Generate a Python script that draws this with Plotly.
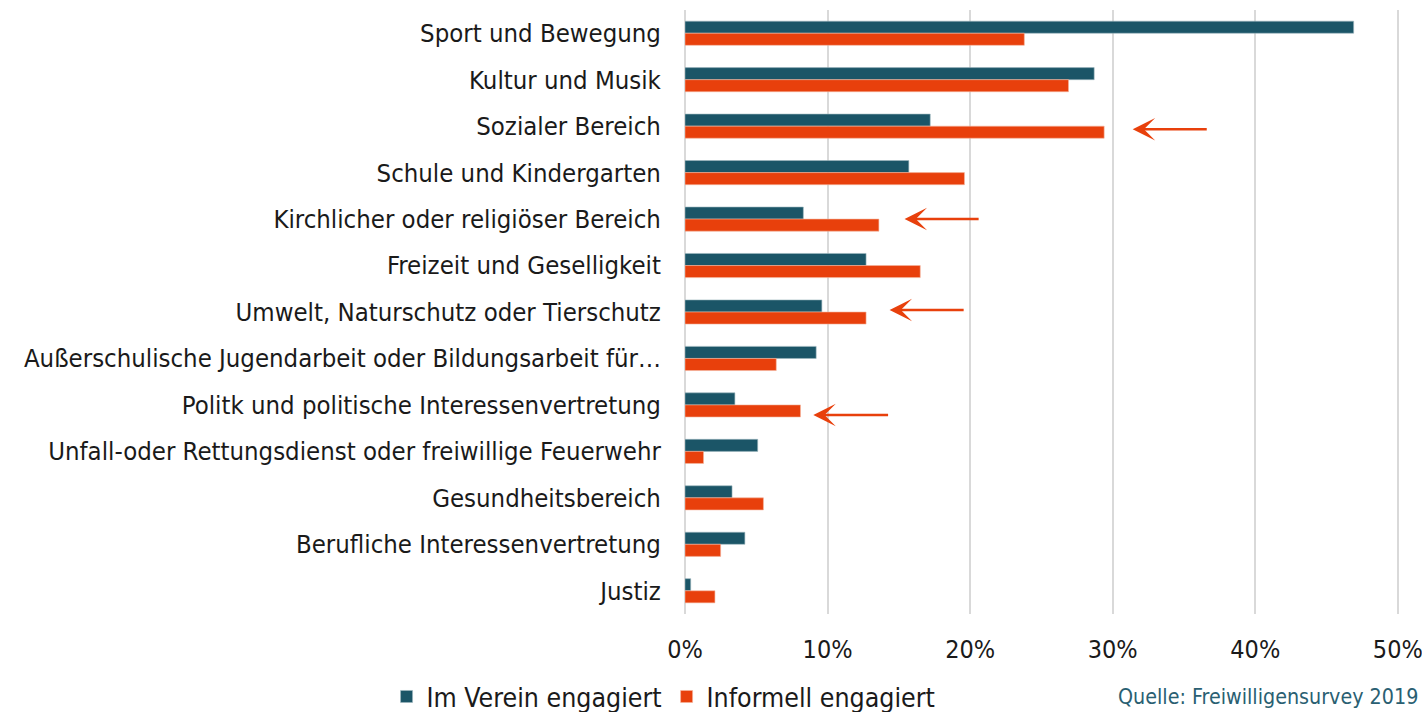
import plotly.graph_objects as go

categories = [
    "Sport und Bewegung",
    "Kultur und Musik",
    "Sozialer Bereich",
    "Schule und Kindergarten",
    "Kirchlicher oder religiöser Bereich",
    "Freizeit und Geselligkeit",
    "Umwelt, Naturschutz oder Tierschutz",
    "Außerschulische Jugendarbeit oder Bildungsarbeit für…",
    "Politk und politische Interessenvertretung",
    "Unfall-oder Rettungsdienst oder freiwillige Feuerwehr",
    "Gesundheitsbereich",
    "Berufliche Interessenvertretung",
    "Justiz",
]
im_verein = [46.9, 28.7, 17.2, 15.7, 8.3, 12.7, 9.6, 9.2, 3.5, 5.1, 3.3, 4.2, 0.4]
informell = [23.8, 26.9, 29.4, 19.6, 13.6, 16.5, 12.7, 6.4, 8.1, 1.3, 5.5, 2.5, 2.1]

series_names = ["Im Verein engagiert", "Informell engagiert"]
tick_vals = [0, 10, 20, 30, 40, 50]
tick_text = ["0%", "10%", "20%", "30%", "40%", "50%"]

# highlighted categories (arrow head value, arrow tail value)
arrow_cats = ["Sozialer Bereich", "Kirchlicher oder religiöser Bereich",
              "Umwelt, Naturschutz oder Tierschutz",
              "Politk und politische Interessenvertretung"]
arrow_head = [31.4, 15.4, 14.35, 9.0]
arrow_tail = [36.7, 20.7, 19.65, 14.35]
arrow_yshift = [-3, 0, 2, -10]

source_text = "Quelle: Freiwilligensurvey 2019"

TEAL = "#1B5567"
ORANGE = "#E8400C"
FONT = "DejaVu Sans Condensed, Liberation Sans Narrow, Open Sans, sans-serif"

fig = go.Figure()
fig.add_trace(go.Bar(
    y=categories, x=im_verein, name=series_names[0], orientation="h",
    marker=dict(color=TEAL, line=dict(color="#9fb8c0", width=0.6)),
))
fig.add_trace(go.Bar(
    y=categories, x=informell, name=series_names[1], orientation="h",
    marker=dict(color=ORANGE, line=dict(color="#f5b59e", width=0.6)),
))

for cat, h, t, ys in zip(arrow_cats, arrow_head, arrow_tail, arrow_yshift):
    fig.add_annotation(
        x=h, y=cat, ax=t, ay=cat, xref="x", yref="y", axref="x", ayref="y",
        text="", showarrow=True, arrowhead=3, arrowsize=1.5, arrowwidth=2.5,
        arrowcolor=ORANGE, yshift=ys,
    )

fig.add_annotation(
    text=source_text, xref="paper", yref="paper", x=1.03, y=-0.137,
    xanchor="right", yanchor="middle", showarrow=False,
    font=dict(size=21.3, color="#2A5F72", family=FONT),
)

fig.update_layout(
    width=1422, height=712,
    margin=dict(l=685, r=23, t=10, b=98, autoexpand=False),
    plot_bgcolor="white", paper_bgcolor="white",
    barmode="group", bargap=0.48, bargroupgap=0,
    font=dict(family=FONT, size=25.5, color="#1a1a1a"),
    legend=dict(
        orientation="h", x=-0.418, y=-0.137, xanchor="left", yanchor="middle",
        font=dict(size=26.5, color="#1a1a1a", family=FONT),
        itemwidth=30, tracegroupgap=0, traceorder="normal",
    ),
    xaxis=dict(
        range=[0, 50.08], tickvals=tick_vals, ticktext=tick_text,
        showgrid=True, gridcolor="#d9d9d9", gridwidth=2,
        zeroline=True, zerolinecolor="#d9d9d9", zerolinewidth=2,
        ticks="outside", ticklen=13, tickcolor="rgba(0,0,0,0)",
        tickfont=dict(size=25, family=FONT, color="#1a1a1a"),
        ticklabeloverflow="allow",
        fixedrange=True,
    ),
    yaxis=dict(
        autorange="reversed", showgrid=False, ticks="outside", ticklen=18,
        tickcolor="rgba(0,0,0,0)", tickfont=dict(size=25.5, family=FONT, color="#1a1a1a"),
        fixedrange=True,
    ),
    showlegend=True,
)

fig.write_html("out.html", config={"displayModeBar": False},
               post_script="document.body.style.margin='0';")
